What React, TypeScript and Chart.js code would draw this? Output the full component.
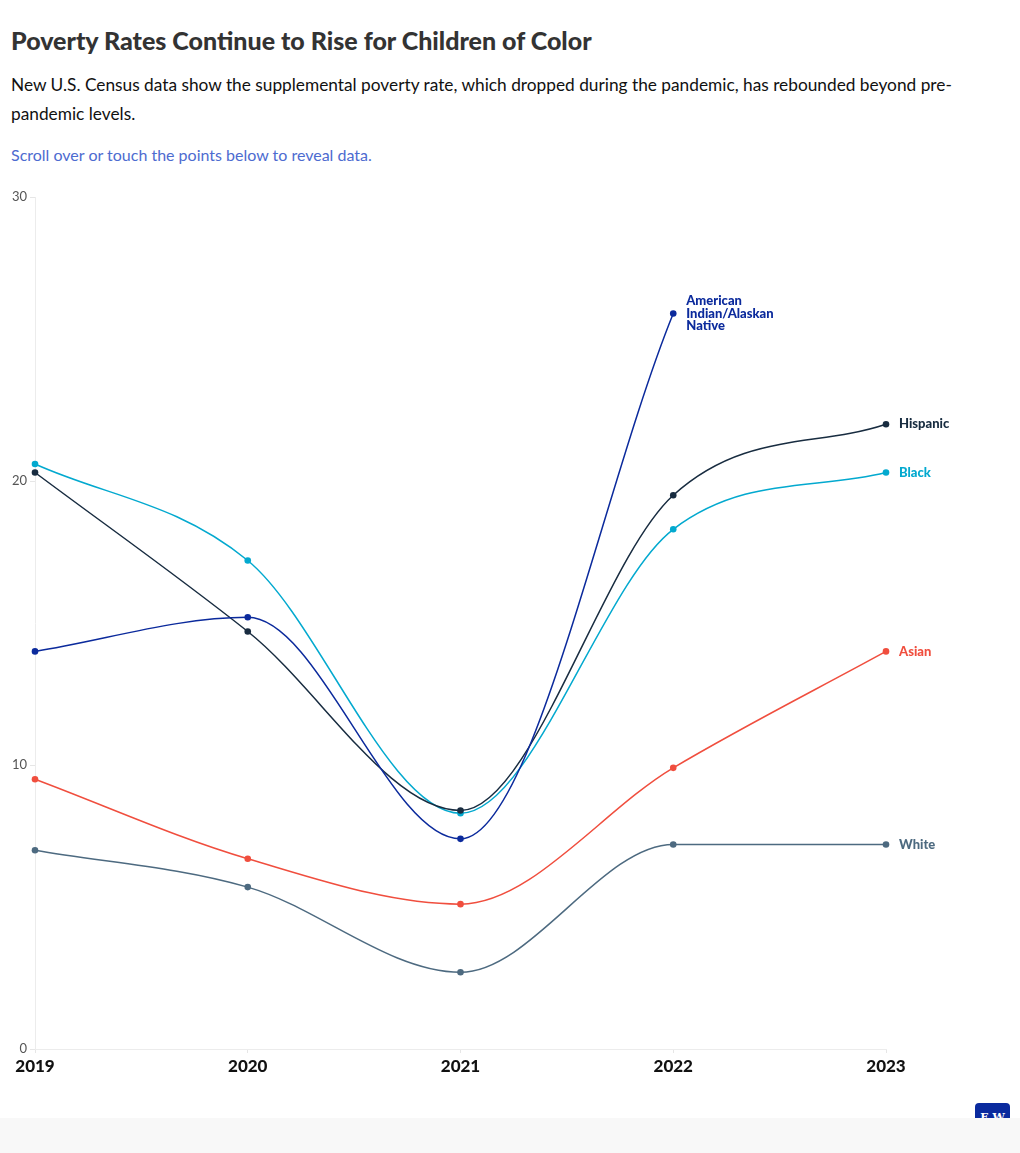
import React, { useEffect, useRef } from "react";
import { Chart, registerables } from "chart.js";

Chart.register(...registerables);

const years = ["2019", "2020", "2021", "2022", "2023"];
const yTicks = [0, 10, 20, 30];

const seriesNames = ["American Indian/Alaskan Native", "Hispanic", "Black", "Asian", "White"];
const labelLines = [["American", "Indian/Alaskan", "Native"], ["Hispanic"], ["Black"], ["Asian"], ["White"]];
const americanIndian = [14.0, 15.2, 7.4, 25.9, null];
const hispanic = [20.3, 14.7, 8.4, 19.5, 22.0];
const black = [20.6, 17.2, 8.3, 18.3, 20.3];
const asian = [9.5, 6.7, 5.1, 9.9, 14.0];
const white = [7.0, 5.7, 2.7, 7.2, 7.2];
const seriesColors = ["#0b2a9c", "#182c40", "#03a9cf", "#f04e3e", "#4d6a80"];

const FONT = "Lato, 'Noto Sans', sans-serif";

const endLabels = {
  id: "endLabels",
  afterDatasetsDraw(chart: any) {
    const ctx = chart.ctx;
    ctx.save();
    ctx.font = `900 13px ${FONT}`;
    ctx.textBaseline = "middle";
    ctx.textAlign = "left";
    chart.data.datasets.forEach((ds: any, i: number) => {
      const meta = chart.getDatasetMeta(i);
      let idx = -1;
      ds.data.forEach((v: any, j: number) => {
        if (v !== null && v !== undefined) idx = j;
      });
      if (idx < 0) return;
      const pt = meta.data[idx];
      const lines = labelLines[i];
      const lh = 12.5;
      const y0 = pt.y - ((lines.length - 1) * lh) / 2;
      ctx.fillStyle = seriesColors[i];
      lines.forEach((l: string, k: number) => {
        ctx.fillText(l, pt.x + 13, y0 + k * lh);
      });
    });
    ctx.restore();
  },
};

export default function App() {
  const ref = useRef<HTMLCanvasElement>(null);
  useEffect(() => {
    const allData = [americanIndian, hispanic, black, asian, white];
    const chart = new Chart(ref.current!, {
      type: "line",
      data: {
        labels: years,
        datasets: allData.map((d, i) => ({
          label: seriesNames[i],
          data: d as any,
          borderColor: seriesColors[i],
          backgroundColor: seriesColors[i],
          pointBackgroundColor: seriesColors[i],
          pointBorderColor: seriesColors[i],
          pointRadius: 3.3,
          pointBorderWidth: 0,
          borderWidth: 1.5,
          cubicInterpolationMode: "monotone" as const,
          spanGaps: false,
          clip: false as any,
        })),
      },
      options: {
        animation: false,
        responsive: false,
        maintainAspectRatio: false,
        layout: { padding: { left: 0, right: 134, top: 12, bottom: 0 } },
        plugins: { legend: { display: false }, tooltip: { enabled: false } },
        scales: {
          x: {
            type: "category",
            offset: false,
            grid: { display: true, drawOnChartArea: false, drawTicks: true, tickLength: 4, color: "#e6e6e6" },
            border: { display: true, color: "#ececec" },
            ticks: {
              color: "#111",
              font: { family: FONT, size: 17, weight: 900 as any },
              padding: 3,
              maxRotation: 0,
              autoSkip: false,
            },
            afterFit(scale: any) {
              scale.height = 36;
            },
          },
          y: {
            min: 0,
            max: 30,
            afterBuildTicks(scale: any) {
              scale.ticks = yTicks.map((v) => ({ value: v }));
            },
            grid: { display: true, drawOnChartArea: false, drawTicks: true, tickLength: 5, color: "#e6e6e6" },
            border: { display: true, color: "#ececec" },
            ticks: {
              color: "#555",
              font: { family: FONT, size: 13 },
              padding: 3,
            },
            afterFit(scale: any) {
              scale.width = 35;
            },
          },
        },
      },
      plugins: [endLabels],
    });
    return () => chart.destroy();
  }, []);

  return (
    <div style={{ position: "absolute", left: 0, top: 0, width: 1020, height: 1153, background: "#fff", overflow: "hidden", fontFamily: FONT }}>
      <div style={{ position: "absolute", left: 11, top: 24, fontSize: 25, lineHeight: "32px", fontWeight: 900, color: "#333" }}>
        Poverty Rates Continue to Rise for Children of Color
      </div>
      <div style={{ position: "absolute", left: 11, top: 70, fontSize: 17.3, lineHeight: "29px", color: "#111", width: 1000 }}>
        New U.S. Census data show the supplemental poverty rate, which dropped during the pandemic, has rebounded beyond pre-
        <br />
        pandemic levels.
      </div>
      <div style={{ position: "absolute", left: 11, top: 145, fontSize: 16, lineHeight: "20px", color: "#4d6bd0" }}>
        Scroll over or touch the points below to reveal data.
      </div>
      <canvas ref={ref} width={1020} height={900} style={{ position: "absolute", left: 0, top: 185, width: 1020, height: 900 }} />
      <div style={{ position: "absolute", left: 975, top: 1103, width: 35, height: 30, background: "#0a2a9e", borderRadius: 4, color: "#fff", fontFamily: "'DejaVu Serif', serif", fontSize: 11, fontWeight: 700, textAlign: "center", lineHeight: "30px" }}>
        E.W
      </div>
      <div style={{ position: "absolute", left: 0, top: 1118, width: 1020, height: 35, background: "#f8f8f8" }} />
    </div>
  );
}
